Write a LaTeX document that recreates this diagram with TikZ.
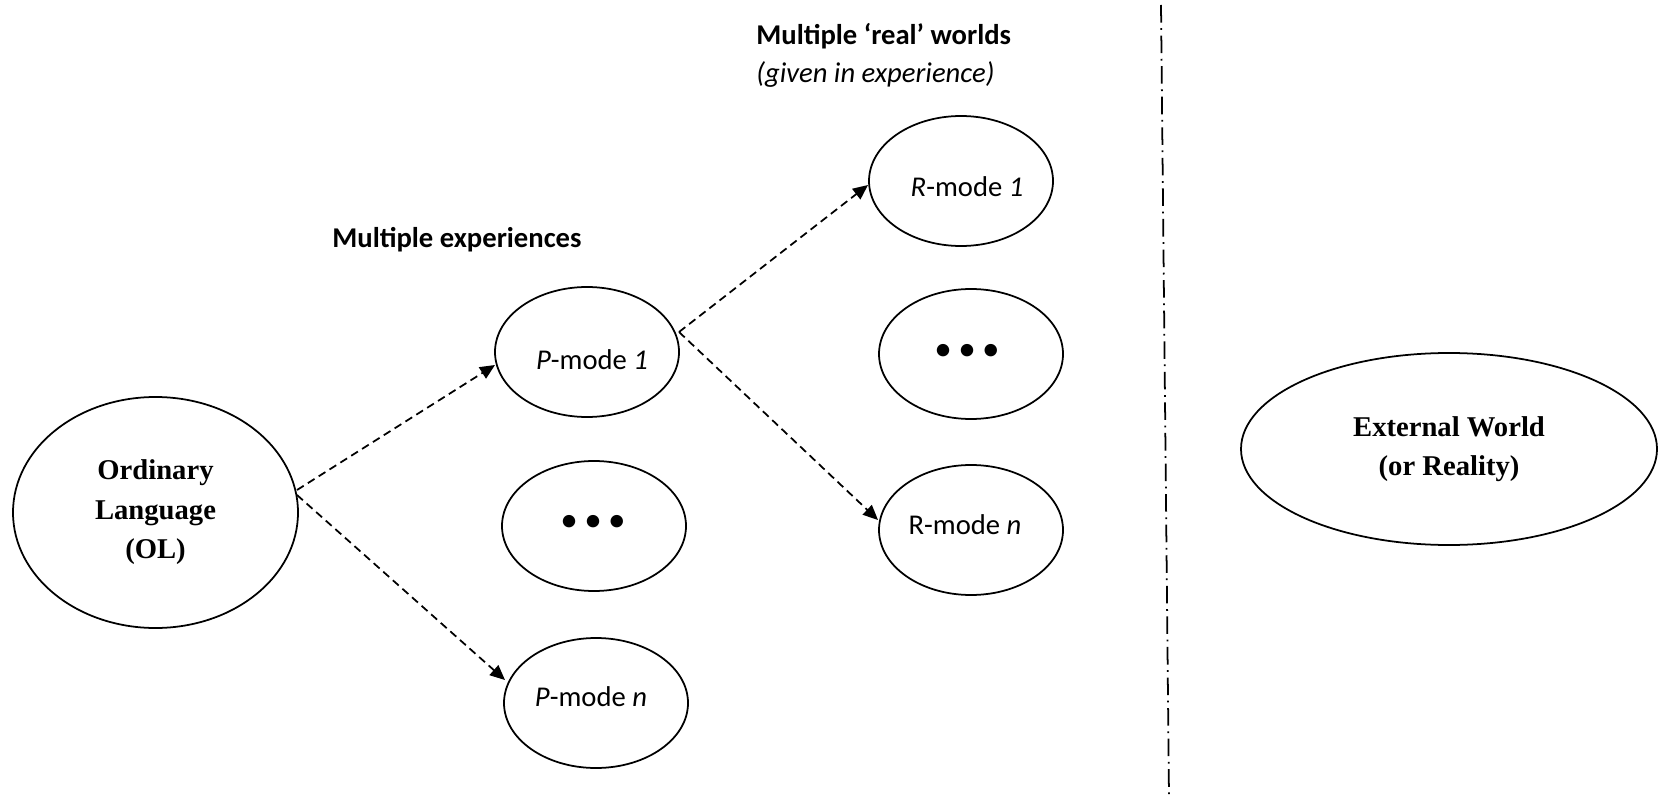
\documentclass[tikz,border=0pt]{standalone}
\usepackage{fontspec}
\setmainfont{Liberation Serif}
\newfontfamily\calfont{Carlito}
\usetikzlibrary{arrows.meta,shapes.geometric}
\tikzset{
  ell/.style={draw=black, line width=1pt, ellipse, inner sep=0pt},
  small/.style={ell, minimum width=184*0.02cm, minimum height=130*0.02cm},
  serifbold/.style={font=\fontsize{16.3}{22.5}\selectfont\bfseries, align=center},
  cal/.style={font=\calfont\fontsize{16.3}{21.5}\selectfont, inner sep=0pt},
  dotsfont/.style={font=\calfont\fontsize{20}{20}\selectfont, inner sep=0pt},
  conn/.style={line width=1pt, dash pattern=on 4.5pt off 2.8pt,
    -{Triangle[length=8.5pt,width=7.5pt]}},
  divider/.style={line width=1pt, dash pattern=on 10pt off 3.2pt on 1pt off 3.2pt}
}
\begin{document}
\begin{tikzpicture}[x=0.02cm, y=-0.02cm]
\useasboundingbox (0,0) rectangle (1662,800);

% headings
\node[cal, anchor=base west, font=\calfont\fontsize{16.3}{21.5}\selectfont\bfseries] (h1) at (332,248) {Multiple experiences};
\node[cal, anchor=base west, font=\calfont\fontsize{16.3}{21.5}\selectfont\bfseries] (h2) at (756,45) {Multiple ‘real’ worlds};
\node[cal, anchor=base west, font=\calfont\fontsize{16.3}{21.5}\selectfont\itshape] (h3) at (756,83) {(given in experience)};

% ellipses
\node[ell, minimum width=285*0.02cm, minimum height=231*0.02cm, serifbold] (ol) at (155.5,512.5) {Ordinary\\Language\\(OL)};
\node[small] (p1) at (587,352) {};
\node[small] (pd) at (594,526) {};
\node[small] (pn) at (596,703) {};
\node[small] (r1) at (961,181) {};
\node[small] (rd) at (971,354) {};
\node[small] (rn) at (971,530) {};
\node[ell, minimum width=416*0.02cm, minimum height=192*0.02cm, serifbold] (ew) at (1449,449) {External World\\(or Reality)};

% ellipse texts
\node[cal] (p1t) at (592,360) {\textit{P}-mode \textit{1}};
\node[cal] (pnt) at (591,697) {\textit{P}-mode \textit{n}};
\node[cal] (r1t) at (967,187) {\textit{R}-mode \textit{1}};
\node[cal] (rnt) at (965,525) {R-mode \textit{n}};
\node[dotsfont] (pdt) at (593,523) {•\kern3.6pt•\kern3.6pt•};
\node[dotsfont] (rdt) at (967,352) {•\kern3.6pt•\kern3.6pt•};

% connector anchor points
\coordinate (olA) at (297,490);
\coordinate (olB) at (297,495);
\coordinate (p1in) at (495,365);
\coordinate (pnin) at (505,680);
\coordinate (p1out) at (679,332);
\coordinate (r1in) at (868,185);
\coordinate (rnin) at (878,520);

\draw[conn] (olA) -- (p1in);
\draw[conn] (olB) -- (pnin);
\draw[conn] (p1out) -- (r1in);
\draw[conn] (p1out) -- (rnin);

% divider
\coordinate (dtop) at (1161,5);
\coordinate (dbot) at (1169,798);
\draw[divider] (dtop) -- (dbot);
\end{tikzpicture}
\end{document}
